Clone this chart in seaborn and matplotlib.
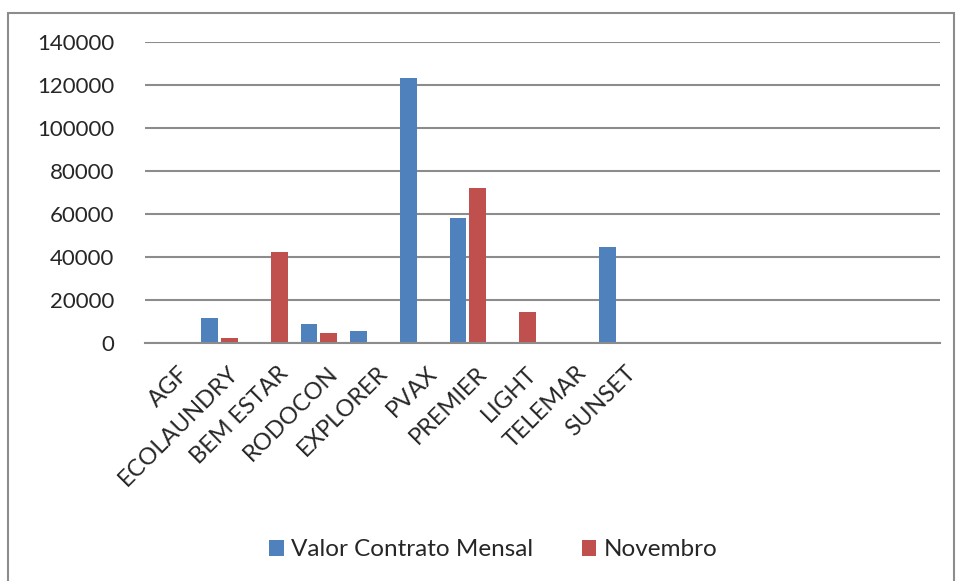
import pandas as pd
import matplotlib.pyplot as plt
import seaborn as sns
from matplotlib.patches import Rectangle
from matplotlib.transforms import ScaledTranslation

empresas = ["AGF", "ECOLAUNDRY", "BEM ESTAR", "RODOCON", "EXPLORER",
            "PVAX", "PREMIER", "LIGHT", "TELEMAR", "SUNSET"]
valor_contrato = [0, 11800, 0, 8700, 5700, 123100, 58100, 0, 0, 44600]
novembro = [0, 2500, 42300, 4800, 0, 0, 72100, 14300, 0, 0]
series = ["Valor Contrato Mensal", "Novembro"]
cores = ["#4F81BD", "#C0504D"]

df = pd.DataFrame({
    "empresa": empresas * 2,
    "serie": [series[0]] * len(empresas) + [series[1]] * len(empresas),
    "valor": valor_contrato + novembro,
})

sns.set_style("white")
plt.rcParams["font.family"] = ["Lato", "DejaVu Sans"]

fig = plt.figure(figsize=(9.56, 5.81), dpi=100)
ax = fig.add_axes([145 / 956, 1 - 343 / 581, 795 / 956, 301 / 581])

sns.barplot(data=df, x="empresa", y="valor", hue="serie", palette=cores,
            width=0.8, gap=0.15, ax=ax, order=empresas, hue_order=series,
            saturation=1, edgecolor="none", linewidth=0)

# empty slots after SUNSET as in the original sheet range
ax.set_xlim(-0.5, 15.5)
ax.set_ylim(0, 140000)
ax.set_yticks(range(0, 140001, 20000))
ax.yaxis.grid(True, color="#8c8c8c", linewidth=1.5)
ax.set_axisbelow(True)
for s in ["top", "right", "left"]:
    ax.spines[s].set_visible(False)
ax.spines["bottom"].set_color("#8c8c8c")
ax.spines["bottom"].set_linewidth(1.5)
ax.tick_params(axis="y", length=0, labelsize=16, pad=22)
ax.tick_params(axis="x", length=0, labelsize=17, pad=14)
shift = ScaledTranslation(8 / 100, 0, fig.dpi_scale_trans)
for lbl in ax.get_xticklabels():
    lbl.set_rotation(45)
    lbl.set_ha("right")
    lbl.set_rotation_mode("anchor")
    lbl.set_transform(lbl.get_transform() + shift)
ax.set_xlabel("")
ax.set_ylabel("")

handles, labels = ax.get_legend_handles_labels()
ax.legend_.remove()
fig.legend(handles, labels, loc="center", bbox_to_anchor=(0.516, 1 - 550 / 581),
           ncol=2, frameon=False, fontsize=17.5, handlelength=0.6, handleheight=0.6,
           handletextpad=0.3, columnspacing=2.0)

fig.patches.append(Rectangle((8 / 956, -0.01), 946 / 956, 1 - 13 / 581 + 0.01,
                             transform=fig.transFigure, fill=False,
                             edgecolor="#8c8c8c", linewidth=1.5))

fig.savefig("out.png", dpi=100)
